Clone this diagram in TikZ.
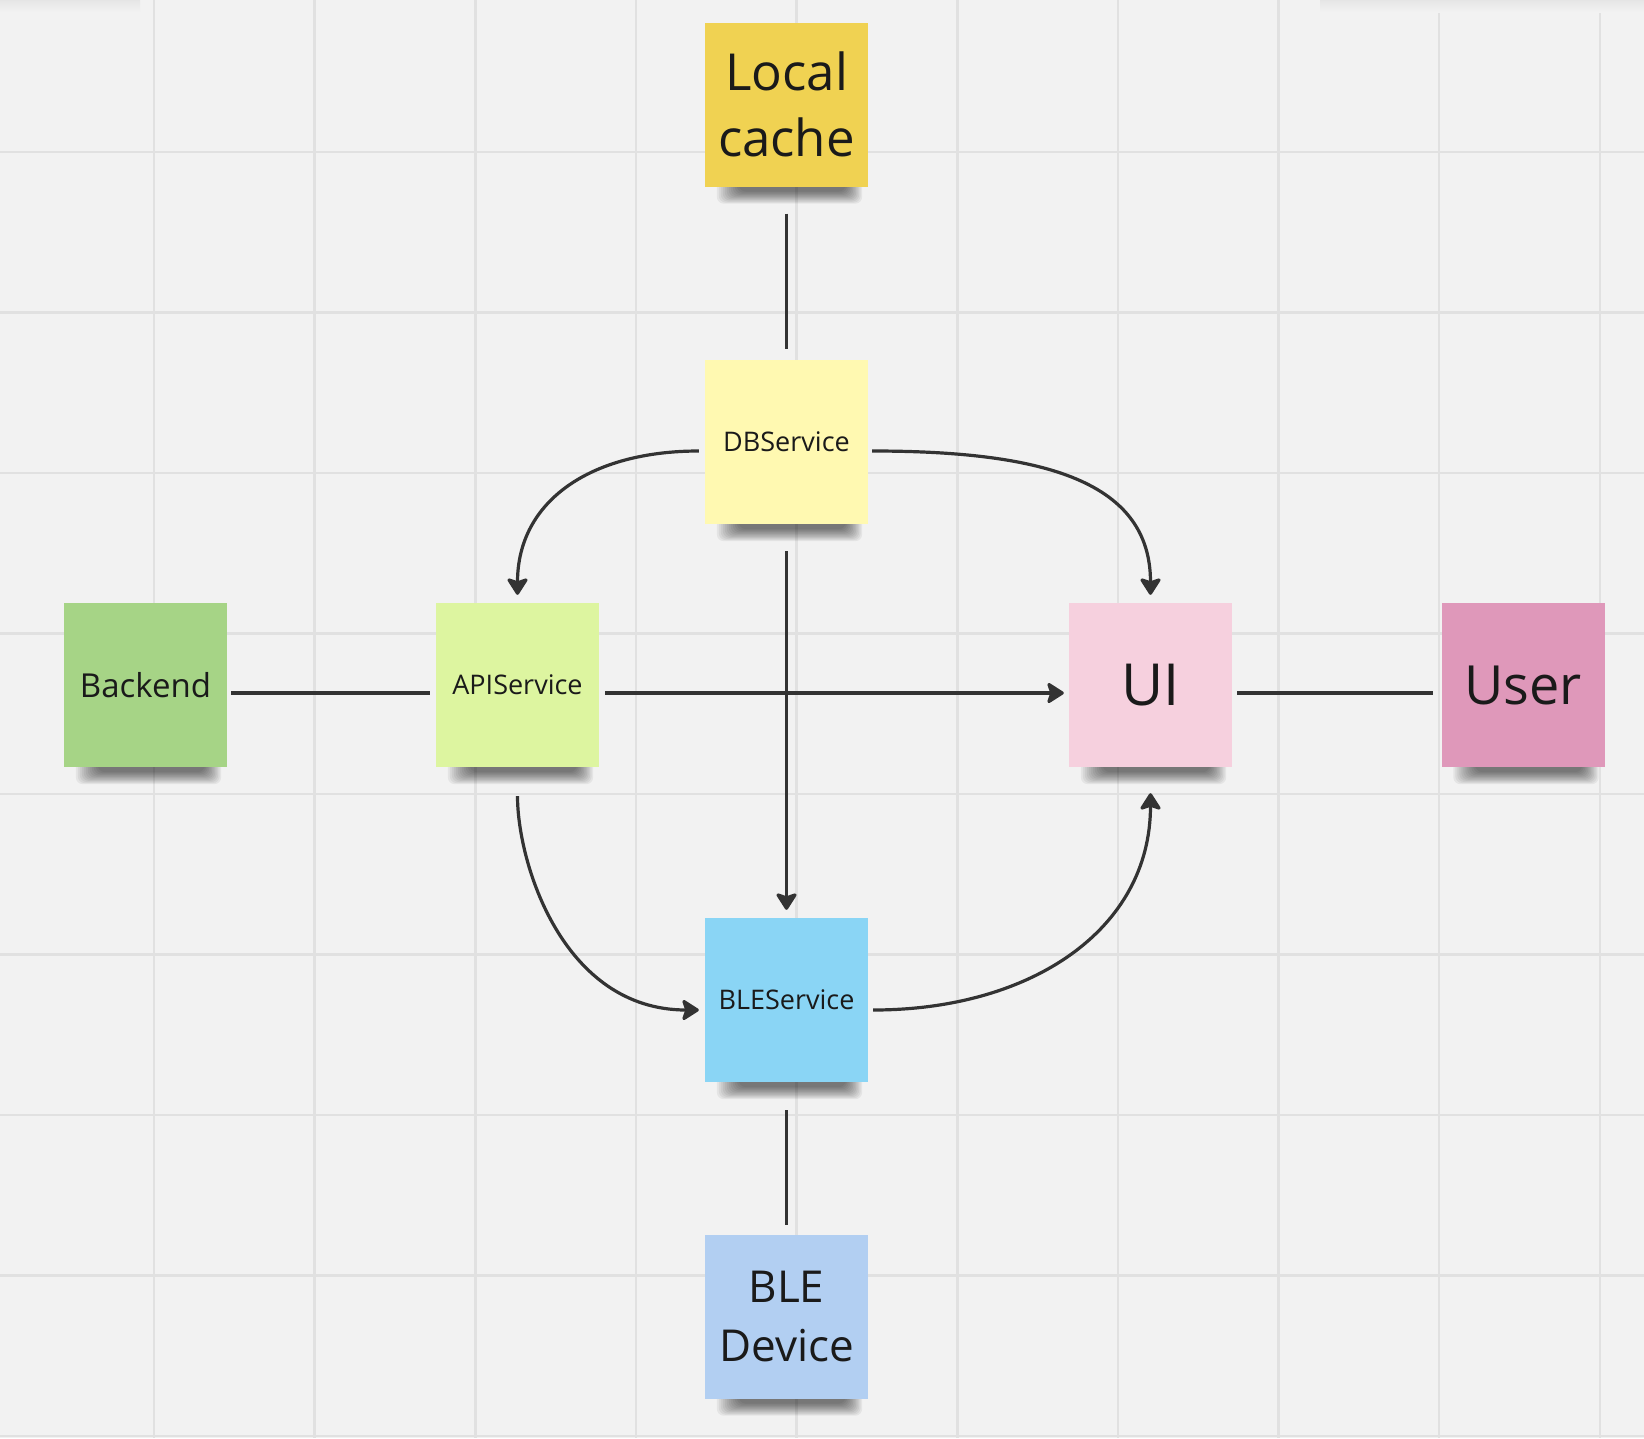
\documentclass[tikz,border=0pt]{standalone}
\usepackage{fontspec}
\setmainfont{Open Sans}
\usetikzlibrary{arrows.meta,backgrounds,calc}
\definecolor{bgc}{HTML}{F2F2F2}
\definecolor{gridc}{HTML}{E1E1E1}
\definecolor{lnc}{HTML}{333333}
\definecolor{txt}{HTML}{1A1A1A}
\definecolor{cachec}{HTML}{F0D252}
\definecolor{dbc}{HTML}{FFF9B1}
\definecolor{backc}{HTML}{A6D486}
\definecolor{apic}{HTML}{DDF5A0}
\definecolor{uic}{HTML}{F6D0DE}
\definecolor{userc}{HTML}{DF98BA}
\definecolor{blec}{HTML}{8AD5F5}
\definecolor{devc}{HTML}{B2CFF2}
\newcommand\notesh[1]{%
  \foreach \k in {0,...,11}{%
    \fill[black,opacity=0.055,rounded corners=7pt]
      ($(#1.south west)+(12+2*\k,-6)$) rectangle ($(#1.south east)+(-6-1.5*\k,17-1.1*\k)$);}}
\begin{document}
\begin{tikzpicture}[x=1pt,y=-1pt,
  note/.style={minimum width=163pt,minimum height=164pt,inner sep=0pt,align=center,text=txt},
  conn/.style={line width=3.2pt,draw=lnc},
  arr/.style={conn,-{Stealth[length=19pt,width=24pt,inset=4pt,round]}},
  big/.style={font=\fontsize{51}{66}\selectfont},
  mid/.style={font=\fontsize{44}{59}\selectfont},
  huge/.style={font=\fontsize{58}{66}\selectfont},
  huge2/.style={font=\fontsize{54}{66}\selectfont},
  lab/.style={font=\fontsize{33}{40}\selectfont},
  small/.style={font=\fontsize{27}{32}\selectfont}]
\useasboundingbox (0,0) rectangle (1644,1438);

\node[note,big,fill=cachec]   (cache)   at (786.5,104.5) {Local\\cache};
\node[note,small,fill=dbc]    (db)      at (786.5,442)   {DBService};
\node[note,lab,fill=backc]    (backend) at (145.5,685)   {Backend};
\node[note,small,fill=apic]   (api)     at (517.5,685)   {APIService};
\node[note,huge,fill=uic]     (ui)      at (1150.5,685)  {UI};
\node[note,huge2,fill=userc]  (user)    at (1523,685)    {User};
\node[note,small,fill=blec]   (ble)     at (786.5,1000)  {BLEService};
\node[note,mid,fill=devc]     (dev)     at (786.5,1316.5){BLE\\Device};

\begin{scope}[on background layer]
  \fill[bgc] (0,0) rectangle (1644,1438);
  \foreach \i in {0,...,9}
    \draw[gridc,line width=2.5pt] ({154+160.65*\i},0) -- ({154+160.65*\i},1438);
  \foreach \j in {0,...,8}
    \draw[gridc,line width=2.5pt] (0,{152+160.5*\j}) -- (1644,{152+160.5*\j});
  \shade[top color=black!10, bottom color=bgc] (0,0) rectangle (140,12);
  \shade[top color=black!10, bottom color=bgc] (1320,0) rectangle (1644,12);
  \foreach \n in {cache,db,backend,api,ui,user,ble,dev} {\notesh{\n}}
\end{scope}

% straight connectors
\draw[conn] ([yshift=-27pt]cache.south) -- ([yshift=11pt]db.north);
\draw[conn] ([xshift=4pt,yshift=-8pt]backend.east) -- ([xshift=-6pt,yshift=-8pt]api.west);
\draw[arr]  ([xshift=6pt,yshift=-8pt]api.east) -- ([xshift=-5pt,yshift=-8pt]ui.west);
\draw[conn] ([xshift=5pt,yshift=-8pt]ui.east) -- ([xshift=-8pt,yshift=-8pt]user.west);
\draw[arr]  ([yshift=-27pt]db.south) -- ([yshift=8pt]ble.north);
\draw[conn] ([yshift=-28pt]ble.south) -- ([yshift=9pt]dev.north);

% curved connectors
\draw[arr] ([xshift=-6pt,yshift=-9pt]db.west) .. controls +(-108,0) and +(0,-94) .. ([yshift=8pt]api.north);
\draw[arr] ([xshift=4pt,yshift=-9pt]db.east) .. controls +(173,0) and +(0,-113) .. ([yshift=8pt]ui.north);
\draw[arr] ([yshift=-29pt]api.south) .. controls +(0,67) and +(-136,0) .. ([xshift=-6pt,yshift=-10pt]ble.west);
\draw[arr] ([xshift=5pt,yshift=-10pt]ble.east) .. controls +(157,0) and +(0,137) .. ([yshift=-26pt]ui.south);
\end{tikzpicture}
\end{document}
